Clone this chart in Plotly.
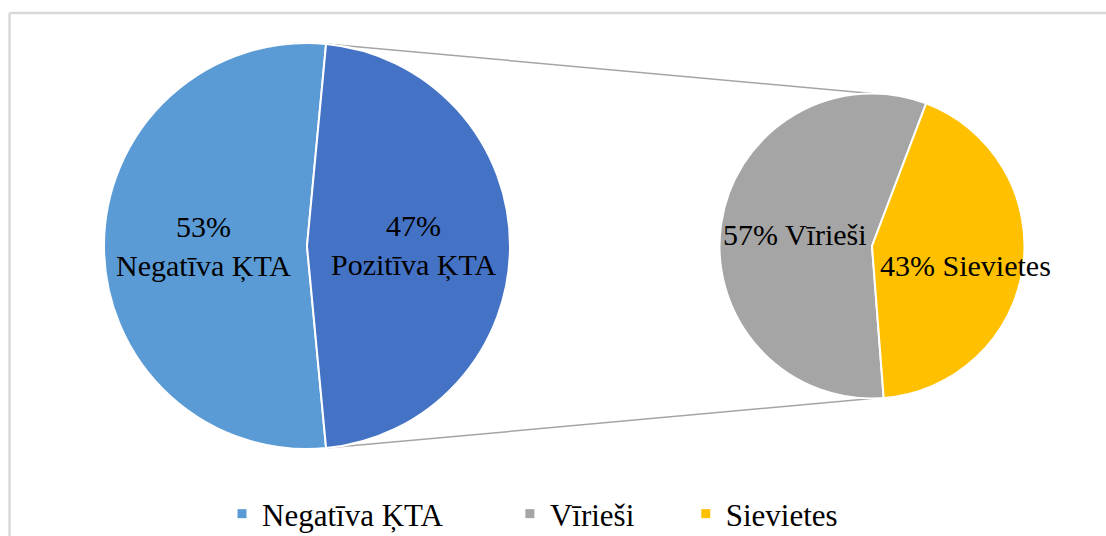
import math
import plotly.graph_objects as go

# ---- data ----
main_labels = ["Negatīva ĶTA", "Pozitīva ĶTA"]
main_values = [53, 47]
sub_labels = ["Vīrieši", "Sievietes"]
sub_values = [57, 43]
legend_labels = ["Negatīva ĶTA", "Vīrieši", "Sievietes"]

# ---- style ----
W, H = 1106, 536
FONT = "Liberation Serif"
FS = 30
LEG_FS = 31
main_colors = ["#5B9BD5", "#4472C4"]
sub_colors = ["#A5A5A5", "#FFC000"]
legend_colors = ["#5B9BD5", "#A5A5A5", "#FFC000"]
legend_pad = [8, 6, 0]  # trailing non-breaking spaces to mimic Excel legend spacing

L_CX, L_CY, L_R = 307, 246, 203
R_CX, R_CY, R_R = 872, 246, 152.5
SUB_ROT = 175.6  # start angle (clockwise from top) of the first sub slice


def dom(cx, cy, r):
    return dict(x=[(cx - r) / W, (cx + r) / W], y=[1 - (cy + r) / H, 1 - (cy - r) / H])


def px(x, y):
    return x / W, 1 - y / H


tot_main = sum(main_values)
tot_sub = sum(sub_values)
# first main slice (Negatīva) placed so that the second slice is centred at 3 o'clock
pos_share = main_values[1] / tot_main * 360
main_rot = 90 + pos_share / 2

fig = go.Figure()
fig.add_trace(go.Pie(
    labels=main_labels, values=main_values, sort=False, direction="clockwise",
    rotation=main_rot, domain=dom(L_CX, L_CY, L_R), textinfo="none",
    marker=dict(colors=main_colors, line=dict(color="white", width=2)),
    showlegend=False, hoverinfo="label+percent",
))
fig.add_trace(go.Pie(
    labels=sub_labels, values=sub_values, sort=False, direction="clockwise",
    rotation=SUB_ROT, domain=dom(R_CX, R_CY, R_R), textinfo="none",
    marker=dict(colors=sub_colors, line=dict(color="white", width=2)),
    showlegend=False, hoverinfo="label+percent",
))

# legend entries
for name, col, pad in zip(legend_labels, legend_colors, legend_pad):
    fig.add_trace(go.Scatter(
        x=[None], y=[None], mode="markers", name=name + "\u00a0" * pad,
        marker=dict(symbol="square", size=9, color=col),
    ))

# ---- labels ----
annotations = []


def slice_mid_angles(values, rot):
    tot = sum(values)
    a = rot
    mids = []
    for v in values:
        span = v / tot * 360
        mids.append(a + span / 2)
        a += span
    return mids


main_mids = slice_mid_angles(main_values, main_rot)
sub_mids = slice_mid_angles(sub_values, SUB_ROT)

main_texts = [f"{round(v / tot_main * 100)}%<br>{l}" for l, v in zip(main_labels, main_values)]
sub_texts = [f"{round(v / tot_sub * 100)}% {l}" for l, v in zip(sub_labels, sub_values)]

main_frac = [0.51, 0.525]
main_dy = [0, 0]
for t, a, f, dy in zip(main_texts, main_mids, main_frac, main_dy):
    x = L_CX + f * L_R * math.sin(math.radians(a))
    y = L_CY - f * L_R * math.cos(math.radians(a)) + dy
    xx, yy = px(x, y)
    annotations.append(dict(x=xx, y=yy, xref="paper", yref="paper", text=t, showarrow=False,
                            xanchor="center", yanchor="middle",
                            font=dict(family=FONT, size=FS, color="black")))

sub_frac = [0.51, 0.62]
sub_dy = [0, 6]
for t, a, f, dy in zip(sub_texts, sub_mids, sub_frac, sub_dy):
    x = R_CX + f * R_R * math.sin(math.radians(a))
    y = R_CY - f * R_R * math.cos(math.radians(a)) + dy
    xx, yy = px(x, y)
    annotations.append(dict(x=xx, y=yy, xref="paper", yref="paper", text=t, showarrow=False,
                            xanchor="center", yanchor="middle",
                            font=dict(family=FONT, size=FS, color="black")))

# ---- connector lines (from split points of main pie to top/bottom of sub pie) ----
split_top = main_rot + main_values[0] / tot_main * 360 - 360
split_bot = main_rot
p1 = (L_CX + L_R * math.sin(math.radians(split_top)), L_CY - L_R * math.cos(math.radians(split_top)))
p2 = (L_CX + L_R * math.sin(math.radians(split_bot)), L_CY - L_R * math.cos(math.radians(split_bot)))
q1 = (R_CX, R_CY - R_R)
q2 = (R_CX, R_CY + R_R)
shapes = []
for a, b in [(p1, q1), (p2, q2)]:
    x0, y0 = px(*a)
    x1, y1 = px(*b)
    shapes.append(dict(type="line", xref="paper", yref="paper", x0=x0, y0=y0, x1=x1, y1=y1,
                       line=dict(color="#A5A5A5", width=1.5), layer="below"))

# chart border (top and left edges visible in the crop)
bx0, by0 = px(9.5, 13)
shapes.append(dict(type="line", xref="paper", yref="paper", x0=bx0, y0=by0, x1=1.0, y1=by0,
                   line=dict(color="#D9D9D9", width=2.5), layer="below"))
shapes.append(dict(type="line", xref="paper", yref="paper", x0=bx0, y0=by0, x1=bx0, y1=0.0,
                   line=dict(color="#D9D9D9", width=2.5), layer="below"))

fig.update_layout(
    width=W, height=H,
    margin=dict(l=0, r=0, t=0, b=0, autoexpand=False),
    paper_bgcolor="white", plot_bgcolor="white",
    xaxis=dict(visible=False), yaxis=dict(visible=False),
    annotations=annotations, shapes=shapes,
    showlegend=True,
    legend=dict(orientation="h", x=(241 - 19) / W, xanchor="left", y=px(0, 514)[1], yanchor="middle",
                font=dict(family=FONT, size=LEG_FS, color="black"), bgcolor="rgba(0,0,0,0)"),
)

fig.write_html("out.html", config={"displayModeBar": False},
               post_script="document.body.style.margin='0px';document.body.style.overflow='hidden';")
